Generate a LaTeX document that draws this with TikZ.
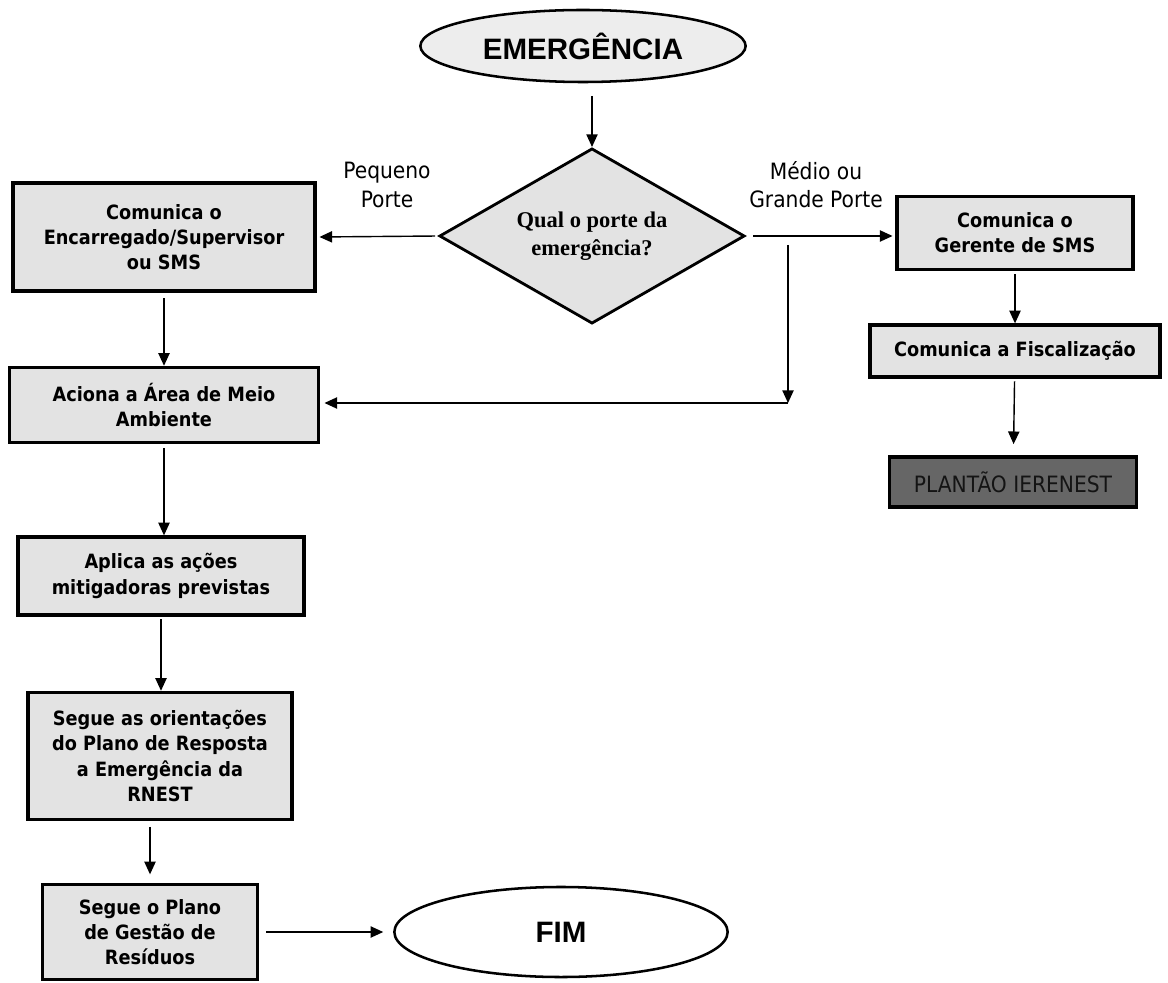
\documentclass[tikz,border=0pt]{standalone}
\usepackage{fontspec}
\setmainfont{DejaVu Sans Condensed}
\newfontfamily\arialfont{Liberation Sans}
\newfontfamily\timesfont{Liberation Serif}
\usetikzlibrary{shapes.geometric,arrows.meta}

\begin{document}
\begin{tikzpicture}[x=0.025cm, y=-0.025cm,
  box/.style={draw,line width=2.3pt,fill=black!11,align=center,inner sep=2pt,font=\bfseries\fontsize{14}{18}\selectfont},
  term/.style={draw,ellipse,line width=1.8pt,inner sep=0pt,font=\arialfont\bfseries\fontsize{21}{24}\selectfont},
  lbl/.style={align=center,font=\fontsize{16}{20}\selectfont},
  arr/.style={-{Triangle[length=9pt,width=8pt]},line width=1pt}]
  \useasboundingbox (0,0) rectangle (1168,983);
  \node[term,fill=black!7,minimum width=8.13cm,minimum height=1.8cm] (emerg) at (583,46) {EMERGÊNCIA};
  \node[draw,diamond,aspect=1.74,line width=2pt,fill=black!11,inner sep=0pt,minimum width=7.63cm,minimum height=4.38cm,align=center,font=\timesfont\bfseries\fontsize{16}{20}\selectfont] (qual) at (592,236) {Qual o porte da\\emergência?};
  \node[lbl] (peq) at (387,185) {Pequeno\\Porte};
  \node[lbl] (med) at (816,185) {Médio ou\\Grande Porte};
  % ramo da esquerda
  \node[box,minimum width=7.55cm,minimum height=2.7cm] (comEnc) at (164,237) {Comunica o\\Encarregado/Supervisor\\ou SMS};
  \node[box,minimum width=7.73cm,minimum height=1.88cm] (aciona) at (164,405) {Aciona a Área de Meio\\Ambiente};
  \node[box,minimum width=7.15cm,minimum height=1.95cm] (aplica) at (161,576) {Aplica as ações\\mitigadoras previstas};
  \node[box,minimum width=6.6cm,minimum height=3.18cm] (segue) at (160,756) {Segue as orientações\\do Plano de Resposta\\a Emergência da\\RNEST};
  \node[box,minimum width=5.38cm,minimum height=2.38cm] (gestao) at (150,932) {Segue o Plano\\de Gestão de\\Resíduos};
  \node[term,minimum width=8.33cm,minimum height=2.25cm] (fim) at (561,932) {FIM};
  % ramo da direita
  \node[box,minimum width=5.9cm,minimum height=1.83cm] (comGer) at (1015,233) {Comunica o\\Gerente de SMS};
  \node[box,minimum width=7.25cm,minimum height=1.3cm] (fisc) at (1015,351) {Comunica a Fiscalização};
  \node[box,fill=black!60,text=black!92,minimum width=6.18cm,minimum height=1.25cm,font=\fontsize{16}{18}\selectfont] (plantao) at (1013,482) {PLANTÃO IERENEST};
  \coordinate (brk) at (788,245); \coordinate (turn) at (788,403);

  \draw[arr,shorten <=9pt] (qual.north |- emerg.south) -- (qual.north);
  \draw[arr,shorten <=2pt,shorten >=2pt] (qual.west) -- (comEnc.east);
  \draw[arr,shorten <=5pt,shorten >=2pt] (qual.east) -- (qual.east -| comGer.west);
  \draw[arr] (brk) -- (turn);
  \draw[arr,shorten >=3pt] (turn) -- (turn -| aciona.east);
  \draw[arr,shorten <=2pt] (comGer) -- (fisc);
  \draw[arr,shorten <=2pt,shorten >=8pt] (fisc) -- (plantao);
  \draw[arr,shorten <=4pt] (comEnc) -- (aciona);
  \draw[arr,shorten <=3pt] (aciona) -- (aciona |- aplica.north);
  \draw[arr,shorten <=2pt] (aplica) -- (aplica |- segue.north);
  \draw[arr,shorten <=4pt,shorten >=6pt] (segue.south -| gestao.north) -- (gestao.north);
  \draw[arr,shorten <=5pt,shorten >=7pt] (gestao) -- (fim);
\end{tikzpicture}
\end{document}
